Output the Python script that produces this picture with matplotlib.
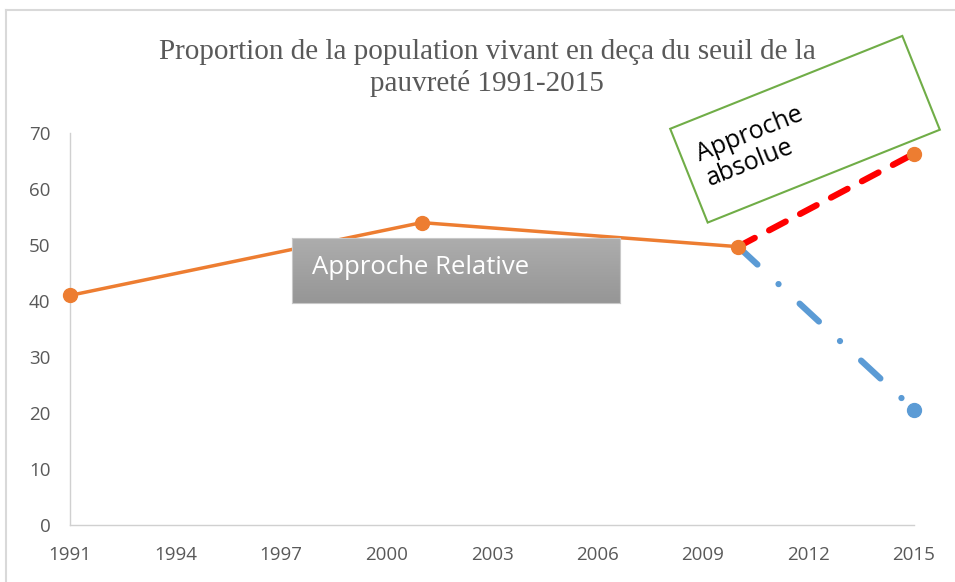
import numpy as np
import matplotlib
matplotlib.use("Agg")
import matplotlib.pyplot as plt
from matplotlib.patches import Rectangle
from matplotlib.transforms import Affine2D
from matplotlib.lines import Line2D

# Data
years_rel = [1991, 2001, 2010]
values_rel = [41.0, 54.0, 49.7]
years_abs = [2010, 2015]
values_abs = [49.7, 66.3]
years_low = [2010, 2015]
values_low = [49.7, 20.6]
xticks = [1991, 1994, 1997, 2000, 2003, 2006, 2009, 2012, 2015]
yticks = [0, 10, 20, 30, 40, 50, 60, 70]
title = "Proportion de la population vivant en deça du seuil de la\npauvreté 1991-2015"

W, H = 955, 582
fig = plt.figure(figsize=(W / 100, H / 100), dpi=100)

# outer chart frame (light gray, left + top visible)
fig.add_artist(Line2D([6 / W, 6 / W], [0, 1 - 10 / H], transform=fig.transFigure, color="#d9d9d9", lw=1.5))
fig.add_artist(Line2D([6 / W, 1], [1 - 10 / H, 1 - 10 / H], transform=fig.transFigure, color="#d9d9d9", lw=1.5))

ax = fig.add_axes([70 / W, 1 - 525 / H, (914 - 70) / W, (525 - 133) / H])
ax.set_xlim(1991, 2015)
ax.set_ylim(0, 70)

orange = "#ED7D31"
blue = "#5B9BD5"

ax.plot(years_low, values_low, color=blue, lw=4.5, linestyle=(0, (4.2, 4.6, 0.01, 4.6)),
        dash_capstyle="round", marker="o", markersize=10, markevery=[1], clip_on=False, zorder=2)
ax.plot(years_abs, values_abs, color="#FF0000", lw=4.5, linestyle=(0, (3.0, 2.6)),
        dash_capstyle="round", zorder=3, clip_on=False)
ax.plot(years_abs[1:], values_abs[1:], "o", color=orange, markersize=10, clip_on=False, zorder=4)
ax.plot(years_rel, values_rel, color=orange, lw=2.5, marker="o", markersize=10, clip_on=False, zorder=4)

ax.set_xticks(xticks)
ax.set_yticks(yticks)
for s in ["top", "right"]:
    ax.spines[s].set_visible(False)
for s in ["left", "bottom"]:
    ax.spines[s].set_color("#d0d0d0")
    ax.spines[s].set_linewidth(1)
ax.tick_params(length=0, labelsize=13.5, labelcolor="#595959")
ax.tick_params(axis="y", pad=14)
ax.tick_params(axis="x", pad=15)
for lab in ax.get_xticklabels() + ax.get_yticklabels():
    lab.set_fontfamily("Open Sans")

fig.text(487 / W, 1 - 68 / H, title, ha="center", va="center", fontsize=21,
         family="Liberation Serif", color="#595959", linespacing=1.2)

# gray "Approche Relative" box with a vertical gradient
bx = fig.add_axes([292 / W, 1 - 303 / H, (620 - 292) / W, (303 - 238) / H])
grad = np.linspace(0, 1, 64).reshape(-1, 1)
bx.imshow(grad, cmap=matplotlib.colors.LinearSegmentedColormap.from_list("g", ["#adadad", "#969696"]),
          aspect="auto", extent=[0, 1, 0, 1], origin="upper")
bx.set_xticks([])
bx.set_yticks([])
for s in bx.spines.values():
    s.set_color("#c8c8c8")
bx.text(0.06, 0.55, "Approche Relative", color="white", fontsize=18.5, family="Open Sans",
        ha="left", va="center", transform=bx.transAxes)

# rotated green box "Approche absolue"
angle = 21.8
rect = Rectangle((-1.25, -0.505), 2.5, 1.01, facecolor="white", edgecolor="#70AD47", lw=1.5,
                 transform=Affine2D().rotate_deg(angle).translate(8.05, (H - 129.25) / 100) + fig.dpi_scale_trans)
fig.add_artist(rect)
fig.text(755 / W, 1 - 147 / H, "Approche\nabsolue", rotation=angle, rotation_mode="anchor",
         ha="center", va="center", multialignment="left", fontsize=18, family="Open Sans",
         color="black", linespacing=1.05)

fig.savefig("out.png", dpi=100)
